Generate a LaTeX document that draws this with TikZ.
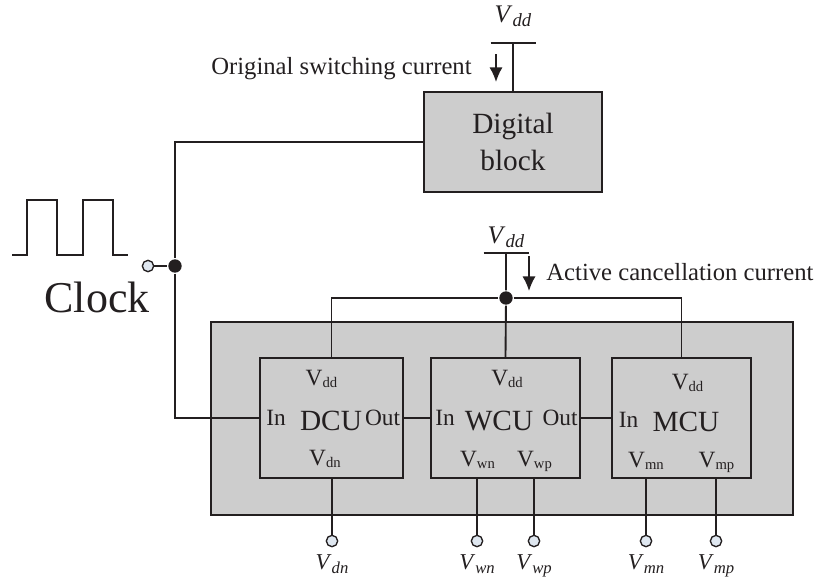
\documentclass[tikz,border=0pt]{standalone}
\usepackage{fontspec}
\setmainfont{Liberation Serif}
\usepackage{xcolor}
\usepackage{tikz}
\usetikzlibrary{arrows.meta}
\definecolor{ink}{HTML}{231F20}
\definecolor{boxfill}{HTML}{CDCDCD}
\definecolor{portfill}{HTML}{DFE7F0}
\newcommand{\Vr}[1]{V\raisebox{-0.25ex}{\fontsize{11}{11}\selectfont #1}}
\newcommand{\Vi}[1]{\textit{V}\raisebox{-0.4ex}{\fontsize{12.5}{12.5}\selectfont\itshape #1}}
\newcommand{\Vt}[1]{\textit{V}\raisebox{-0.4ex}{\fontsize{14}{14}\selectfont\itshape #1}}
\tikzset{
  block/.style={draw, fill=boxfill, inner sep=0pt},
  dot/.style={circle, fill, inner sep=0pt, minimum size=10pt},
  port/.style={circle, draw, fill=portfill, line width=1pt, inner sep=0pt, minimum size=8.5pt},
  lbl/.style={font=\fontsize{17.5}{19}\selectfont, anchor=base},
  unitname/.style={font=\fontsize{22}{26}\selectfont, anchor=base},
  note/.style={font=\fontsize{18.5}{22}\selectfont},
  supply/.style={font=\fontsize{19}{21}\selectfont, anchor=base},
  flow/.style={-{Latex[length=11pt,width=10pt]}}
}

\begin{document}
\begin{tikzpicture}[x=0.75pt,y=-0.75pt,line width=1.4pt,color=ink]
\useasboundingbox (0,0) rectangle (816,583);
% blocks
\node[block,minimum width=582*0.75pt,minimum height=193*0.75pt] (cancel) at (502,418.5) {};
\node[block,minimum width=178*0.75pt,minimum height=100*0.75pt,align=center,
  font=\fontsize{22}{27.75}\selectfont] (digital) at (513,142) {Digital\\block};
\foreach \n/\cx/\w in {dcu/331.5/143, wcu/505.5/149, mcu/681.5/139}
  \node[block,minimum width=\w*0.75pt,minimum height=120*0.75pt] (\n) at (\cx,418) {};

% clock source
\draw (12,255) \foreach \p in {27,83} { -- (\p,255) -- (\p,200) -- (\p+30,200) -- (\p+30,255) } -- (128,255);
\node[font=\fontsize{33}{36}\selectfont,anchor=base] (clocklbl) at (97,312) {Clock};
\node[port] (clkin) at (148,266) {};
\node[dot] (clkdot) at (175,266) {};
\draw (clkin) -- (clkdot);
\draw (digital.west) -| (clkdot);
\draw (clkdot) |- (dcu.west);

% digital supply
\coordinate (vddA) at (513,43);
\draw (vddA) ++(-22.5,0) -- ++(45,0);
\draw (vddA) -- (digital.north);
\node[supply] (vddAlbl) at (513,22) {\Vt{dd}};
\coordinate (swtop) at (496,54);
\coordinate (swtip) at (496,82);
\draw[flow] (swtop) -- (swtip);
\node[note,anchor=base east] (swlbl) at (477,74) {Original switching current};

% cancellation supply
\coordinate (vddB) at (506,253);
\draw (vddB) ++(-22.5,0) -- ++(45,0);
\node[supply] (vddBlbl) at (506,243) {\Vt{dd}};
\node[dot] (topdot) at (506,298) {};
\draw (vddB) -- (topdot) -- (wcu.north);
\draw (dcu.north) |- (topdot) -| (mcu.north);
\coordinate (actop) at (529,256);
\coordinate (actip) at (529,291);
\draw[flow] (actop) -- (actip);
\node[note,anchor=base west] (aclbl) at (541,280) {Active cancellation current};

% chain
\draw (dcu.east) -- (wcu.west);
\draw (wcu.east) -- (mcu.west);

% unit labels
\node[lbl] (dcuvdd) at (321.5,385) {\Vr{dd}};
\node[lbl] (dcuin) at (276,425) {In};
\node[unitname] (dcutxt) at (331,430) {DCU};
\node[lbl] (dcuout) at (382.5,425) {Out};
\node[lbl] (dcuvdn) at (325,465) {\Vr{dn}};
\node[lbl] (wcuvdd) at (507,385) {\Vr{dd}};
\node[lbl] (wcuin) at (445,425) {In};
\node[unitname] (wcutxt) at (499,430) {WCU};
\node[lbl] (wcuout) at (560,425) {Out};
\node[lbl] (wcuvwn) at (477.5,466) {\Vr{wn}};
\node[lbl] (wcuvwp) at (534.5,466) {\Vr{wp}};
\node[lbl] (mcuvdd) at (687.5,389) {\Vr{dd}};
\node[lbl] (mcuin) at (628.5,427) {In};
\node[unitname] (mcutxt) at (686,431) {MCU};
\node[lbl] (mcuvmn) at (646,467) {\Vr{mn}};
\node[lbl] (mcuvmp) at (716.5,467) {\Vr{mp}};

% bias ports
\foreach \n/\x/\u/\t in {pdn/332/dcu/dn, pwn/477/wcu/wn, pwp/534/wcu/wp, pmn/646/mcu/mn, pmp/716/mcu/mp}{
  \node[port] (\n) at (\x,541) {};
  \draw (\n) -- (\n |- \u.south);
  \node[font=\fontsize{17}{19}\selectfont,anchor=base] (\n-lbl) at (\x,569) {\Vi{\t}};
}
\end{tikzpicture}
\end{document}
